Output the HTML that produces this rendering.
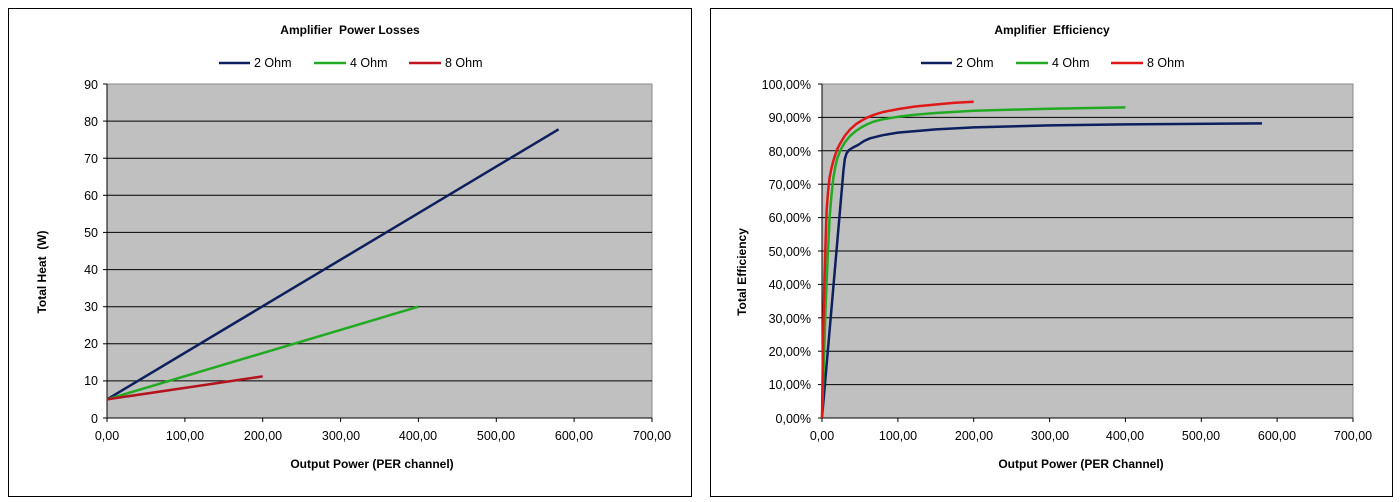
<!DOCTYPE html>
<html><head><meta charset="utf-8"><style>
html,body{margin:0;padding:0;background:#fff;}
svg{display:block;font-family:"Liberation Sans",Arial,sans-serif;}
</style></head><body>
<svg width="1400" height="502" viewBox="0 0 1400 502" xmlns="http://www.w3.org/2000/svg">
<!-- LEFT CHART -->
<rect x="8.5" y="8.5" width="683" height="488" fill="#fff" stroke="#000" stroke-width="1"/>
<text x="350" y="34" font-size="12" font-weight="bold" text-anchor="middle">Amplifier&#160; Power Losses</text>
<g font-size="12.5">
<line x1="219" y1="63" x2="250" y2="63" stroke="#0d1f5c" stroke-width="2.5"/><text x="254" y="67">2 Ohm</text>
<line x1="314" y1="63" x2="346" y2="63" stroke="#22aa22" stroke-width="2.5"/><text x="350" y="67">4 Ohm</text>
<line x1="409" y1="63" x2="441" y2="63" stroke="#c0141e" stroke-width="2.5"/><text x="445" y="67">8 Ohm</text>
</g>
<rect x="107" y="84" width="545" height="334" fill="#c0c0c0" stroke="#888" stroke-width="1"/>
<g stroke="#000" stroke-width="1">
<line x1="107" y1="121.1" x2="652" y2="121.1"/><line x1="107" y1="158.2" x2="652" y2="158.2"/>
<line x1="107" y1="195.3" x2="652" y2="195.3"/><line x1="107" y1="232.4" x2="652" y2="232.4"/>
<line x1="107" y1="269.6" x2="652" y2="269.6"/><line x1="107" y1="306.7" x2="652" y2="306.7"/>
<line x1="107" y1="343.8" x2="652" y2="343.8"/><line x1="107" y1="380.9" x2="652" y2="380.9"/>
<line x1="107" y1="84" x2="107" y2="418"/><line x1="107" y1="418" x2="652" y2="418"/>
<line x1="103" y1="84" x2="107" y2="84"/><line x1="103" y1="121.1" x2="107" y2="121.1"/><line x1="103" y1="158.2" x2="107" y2="158.2"/><line x1="103" y1="195.3" x2="107" y2="195.3"/><line x1="103" y1="232.4" x2="107" y2="232.4"/><line x1="103" y1="269.6" x2="107" y2="269.6"/><line x1="103" y1="306.7" x2="107" y2="306.7"/><line x1="103" y1="343.8" x2="107" y2="343.8"/><line x1="103" y1="380.9" x2="107" y2="380.9"/><line x1="103" y1="418" x2="107" y2="418"/>
<line x1="107" y1="418" x2="107" y2="422"/><line x1="184.9" y1="418" x2="184.9" y2="422"/><line x1="262.7" y1="418" x2="262.7" y2="422"/><line x1="340.6" y1="418" x2="340.6" y2="422"/><line x1="418.4" y1="418" x2="418.4" y2="422"/><line x1="496.3" y1="418" x2="496.3" y2="422"/><line x1="574.1" y1="418" x2="574.1" y2="422"/><line x1="652" y1="418" x2="652" y2="422"/>
</g>
<g font-size="12.5" text-anchor="end">
<text x="98" y="89">90</text><text x="98" y="126">80</text><text x="98" y="163">70</text><text x="98" y="200">60</text><text x="98" y="237">50</text><text x="98" y="274">40</text><text x="98" y="311">30</text><text x="98" y="348">20</text><text x="98" y="385">10</text><text x="98" y="423">0</text>
</g>
<g font-size="12.5" text-anchor="middle">
<text x="107" y="440">0,00</text><text x="185" y="440">100,00</text><text x="263" y="440">200,00</text><text x="341" y="440">300,00</text><text x="418" y="440">400,00</text><text x="496" y="440">500,00</text><text x="574" y="440">600,00</text><text x="652" y="440">700,00</text>
</g>
<text x="372" y="468" font-size="12" font-weight="bold" text-anchor="middle">Output Power (PER channel)</text>
<text transform="translate(46,272) rotate(-90)" font-size="12" font-weight="bold" text-anchor="middle">Total Heat&#160; (W)</text>
<g fill="none" stroke-width="2.5">
<polyline points="107,399.4 558.6,129.3" stroke="#0d1f5c"/>
<polyline points="107,399.4 418.4,306.7" stroke="#22aa22"/>
<polyline points="107,399.4 262.7,376.4" stroke="#b3141e"/>
</g>

<!-- RIGHT CHART -->
<rect x="710.5" y="8.5" width="682" height="488" fill="#fff" stroke="#000" stroke-width="1"/>
<text x="1052" y="34" font-size="12" font-weight="bold" text-anchor="middle">Amplifier&#160; Efficiency</text>
<g font-size="12.5">
<line x1="921" y1="63" x2="952" y2="63" stroke="#0d1f5c" stroke-width="2.5"/><text x="956" y="67">2 Ohm</text>
<line x1="1016" y1="63" x2="1048" y2="63" stroke="#22aa22" stroke-width="2.5"/><text x="1052" y="67">4 Ohm</text>
<line x1="1111" y1="63" x2="1143" y2="63" stroke="#e01818" stroke-width="2.5"/><text x="1147" y="67">8 Ohm</text>
</g>
<rect x="822" y="84" width="531" height="334" fill="#c0c0c0" stroke="#888" stroke-width="1"/>
<g stroke="#000" stroke-width="1">
<line x1="822" y1="117.4" x2="1353" y2="117.4"/><line x1="822" y1="150.8" x2="1353" y2="150.8"/><line x1="822" y1="184.2" x2="1353" y2="184.2"/><line x1="822" y1="217.6" x2="1353" y2="217.6"/><line x1="822" y1="251" x2="1353" y2="251"/><line x1="822" y1="284.4" x2="1353" y2="284.4"/><line x1="822" y1="317.8" x2="1353" y2="317.8"/><line x1="822" y1="351.2" x2="1353" y2="351.2"/><line x1="822" y1="384.6" x2="1353" y2="384.6"/>
<line x1="822" y1="84" x2="822" y2="418"/><line x1="822" y1="418" x2="1353" y2="418"/>
<line x1="818" y1="84" x2="822" y2="84"/><line x1="818" y1="117.4" x2="822" y2="117.4"/><line x1="818" y1="150.8" x2="822" y2="150.8"/><line x1="818" y1="184.2" x2="822" y2="184.2"/><line x1="818" y1="217.6" x2="822" y2="217.6"/><line x1="818" y1="251" x2="822" y2="251"/><line x1="818" y1="284.4" x2="822" y2="284.4"/><line x1="818" y1="317.8" x2="822" y2="317.8"/><line x1="818" y1="351.2" x2="822" y2="351.2"/><line x1="818" y1="384.6" x2="822" y2="384.6"/><line x1="818" y1="418" x2="822" y2="418"/>
<line x1="822" y1="418" x2="822" y2="422"/><line x1="897.9" y1="418" x2="897.9" y2="422"/><line x1="973.7" y1="418" x2="973.7" y2="422"/><line x1="1049.6" y1="418" x2="1049.6" y2="422"/><line x1="1125.4" y1="418" x2="1125.4" y2="422"/><line x1="1201.3" y1="418" x2="1201.3" y2="422"/><line x1="1277.1" y1="418" x2="1277.1" y2="422"/><line x1="1353" y1="418" x2="1353" y2="422"/>
</g>
<g font-size="12.5" text-anchor="end">
<text x="811" y="89">100,00%</text><text x="811" y="122">90,00%</text><text x="811" y="156">80,00%</text><text x="811" y="189">70,00%</text><text x="811" y="222">60,00%</text><text x="811" y="256">50,00%</text><text x="811" y="289">40,00%</text><text x="811" y="323">30,00%</text><text x="811" y="356">20,00%</text><text x="811" y="389">10,00%</text><text x="811" y="423">0,00%</text>
</g>
<g font-size="12.5" text-anchor="middle">
<text x="822" y="440">0,00</text><text x="898" y="440">100,00</text><text x="974" y="440">200,00</text><text x="1050" y="440">300,00</text><text x="1125" y="440">400,00</text><text x="1201" y="440">500,00</text><text x="1277" y="440">600,00</text><text x="1353" y="440">700,00</text>
</g>
<text x="1081" y="468" font-size="12" font-weight="bold" text-anchor="middle">Output Power (PER Channel)</text>
<text transform="translate(746,272) rotate(-90)" font-size="12" font-weight="bold" text-anchor="middle">Total Efficiency</text>
<g fill="none" stroke-width="2.5" stroke-linejoin="round">
<polyline stroke="#0d1f5c" points="822,418 843.5,170 844.8,159 846.5,153.5 849,150 853,147.5 858,145 864,141 870,138.3 882.7,135.2 897.9,132.6 935.8,129.4 973.7,127.4 1049.6,125.4 1125.4,124.4 1262,123.4"/>
<polyline stroke="#22aa22" points="822,418 825.8,301 828,250 829.6,217.6 831.5,195 833.4,177.5 835.5,166 837.2,158.5 840.5,150 844.8,142.5 850,136 856.1,130.8 862,127 867.5,124.1 874,121.5 882.7,119.3 897.9,116.8 915,114.8 935.8,113 973.7,110.7 1049.6,108.7 1125.4,107.4"/>
<polyline stroke="#e01818" points="822,418 823.2,330 824.3,284.4 825.5,245 826.6,210.9 828,192 829.6,177.5 831.5,168 833.4,160.8 835.5,154 837.2,149.1 841,142 844.8,135.8 850,129.5 856.1,124.1 862,120.3 867.5,117.4 874,114.8 882.7,112.1 897.9,109.1 915,106.5 935.8,104.5 955,102.8 973.7,101.7"/>
</g>
</svg>
</body></html>
